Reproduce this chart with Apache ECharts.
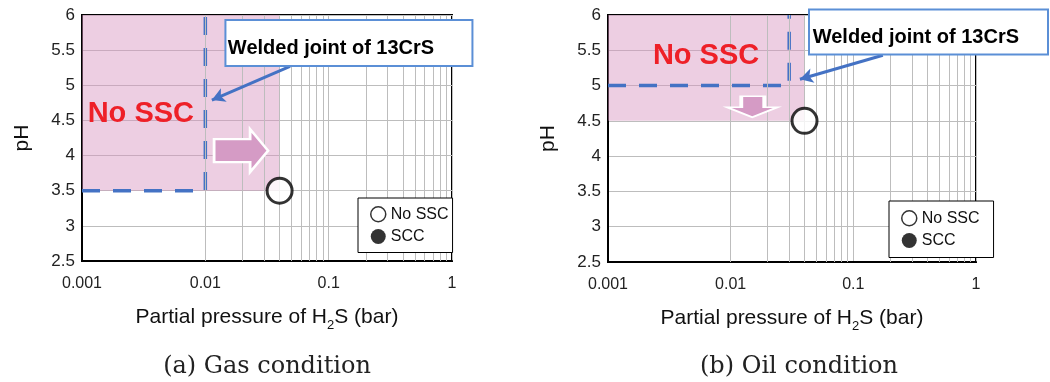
<!DOCTYPE html>
<html>
<head>
    <meta charset="utf-8">
    <title>SSC map</title>
    <script src="https://cdn.jsdelivr.net/npm/echarts@6/dist/echarts.min.js"></script>
</head>
<body style="margin:0;background:#fff">
    <div id="main" style="width:1050px;height:382px;"></div>
    <script type="text/javascript">
    // axis ticks
    var xTickLabels = ['0.001', '0.01', '0.1', '1'];
    var minorX = [0.002, 0.003, 0.004, 0.005, 0.006, 0.007, 0.008, 0.009,
                  0.02, 0.03, 0.04, 0.05, 0.06, 0.07, 0.08, 0.09,
                  0.2, 0.3, 0.4, 0.5, 0.6, 0.7, 0.8, 0.9];
    var yTickLabels = ['2.5', '3', '3.5', '4', '4.5', '5', '5.5', '6'];

    // (a) gas condition
    var gasNoSsc = [[0.04, 3.5]];
    var gasScc = [];
    var gasLimit = [[0.001, 3.5], [0.01, 3.5], [0.01, 6]];
    var gasZone = [[0.001, 3.5], [0.04, 6]];

    // (b) oil condition
    var oilNoSsc = [[0.04, 4.5]];
    var oilScc = [];
    var oilLimit = [[0.001, 5], [0.03, 5], [0.03, 6]];
    var oilZone = [[0.001, 4.5], [0.04, 6]];

    var FONT = 'Liberation Sans';
    var BLUE = '#4472c4';
    var PINK = '#d59bc5';
    var rightArrow = 'path://M0,10 L36,10 L36,0 L54,21.5 L36,43 L36,33 L0,33 Z';
    var downArrow = 'path://M14,0 L37,0 L37,11 L50,11 L25,21 L0,11 L14,11 Z';

    function xAxisOf(i) {
        return {
            gridIndex: i, type: 'log', logBase: 10, min: 0.001, max: 1,
            axisLine: { lineStyle: { color: '#000', width: 2 } },
            axisTick: { show: false },
            axisLabel: {
                color: '#222', fontSize: 16, fontFamily: FONT, margin: 15,
                formatter: function (v, idx) { return xTickLabels[idx]; }
            },
            splitLine: { show: true, lineStyle: { color: '#bdbdbd', width: 1 } },
            name: 'Partial pressure of H{sub|2}S (bar)',
            nameLocation: 'middle', nameGap: 46,
            nameTextStyle: {
                color: '#111', fontSize: 21, fontFamily: FONT,
                rich: { sub: { fontSize: 13, fontFamily: FONT, color: '#111', verticalAlign: 'bottom', padding: [0, 0, -4, 0] } }
            }
        };
    }
    function yAxisOf(i) {
        return {
            gridIndex: i, type: 'value', min: 2.5, max: 6, interval: 0.5,
            axisLine: { show: true, lineStyle: { color: '#000', width: 2 } },
            axisTick: { show: false },
            axisLabel: {
                color: '#222', fontSize: 17, fontFamily: FONT, margin: 7,
                formatter: function (v, idx) { return yTickLabels[idx]; }
            },
            splitLine: { show: true, lineStyle: { color: '#bdbdbd', width: 1 } },
            name: 'pH', nameLocation: 'middle', nameRotate: 90, nameGap: 49,
            nameTextStyle: { color: '#111', fontSize: 21, fontFamily: FONT }
        };
    }

    function panelSeries(i, noSsc, scc, limit, zone, ann) {
        return [
            {   // minor grid lines + pink safe zone
                type: 'line', xAxisIndex: i, yAxisIndex: i, data: [], z: 1, silent: true,
                markLine: {
                    silent: true, symbol: ['none', 'none'], label: { show: false },
                    lineStyle: { color: '#bdbdbd', width: 1, type: 'solid' },
                    data: minorX.map(function (v) { return { xAxis: v }; })
                },
                markArea: {
                    silent: true,
                    itemStyle: { color: 'rgba(214,146,190,0.45)' },
                    data: [[{ coord: zone[0] }, { coord: zone[1] }]]
                }
            },
            {   // dashed limit line + annotations
                type: 'line', xAxisIndex: i, yAxisIndex: i, data: limit, z: 4, silent: true,
                symbol: 'none',
                lineStyle: { color: BLUE, width: 3.5, type: [18, 13], cap: 'butt' },
                markLine: {
                    silent: true, symbol: ['none', 'arrow'], symbolSize: [11, 13],
                    label: { show: false },
                    lineStyle: { color: BLUE, width: 3, type: 'solid' },
                    data: [[{ coord: ann.arrowFrom }, { coord: ann.arrowTo }]]
                },
                markPoint: {
                    silent: true,
                    data: [
                        {   // callout frame
                            coord: ann.box, symbol: 'rect', symbolSize: 1,
                            itemStyle: { color: 'rgba(0,0,0,0)' },
                            label: {
                                show: true, position: 'inside', formatter: ' ',
                                width: ann.boxSize[0], height: ann.boxSize[1], padding: 0,
                                backgroundColor: '#fff', borderColor: '#5b8fd6', borderWidth: 2
                            }
                        },
                        {   // callout text
                            coord: ann.boxText, symbol: 'rect', symbolSize: 1,
                            itemStyle: { color: 'rgba(0,0,0,0)' },
                            label: {
                                show: true, position: 'inside',
                                formatter: 'Welded joint of 13CrS',
                                color: '#000', fontSize: 20, fontWeight: 'bold', fontFamily: FONT
                            }
                        },
                        {
                            coord: ann.noSsc, symbol: 'rect', symbolSize: 1,
                            itemStyle: { color: 'rgba(0,0,0,0)' },
                            label: {
                                show: true, position: 'inside', formatter: 'No SSC',
                                color: '#ee2028', fontSize: 29, fontWeight: 'bold', fontFamily: FONT
                            }
                        },
                        {
                            coord: ann.pinkArrow, symbol: ann.pinkPath, symbolSize: ann.pinkSize,
                            itemStyle: { color: PINK, borderColor: '#fff', borderWidth: 2.5 },
                            label: { show: false }
                        }
                    ]
                }
            },
            {
                name: 'No SSC', type: 'scatter', xAxisIndex: i, yAxisIndex: i, data: noSsc, z: 5,
                symbol: 'circle', symbolSize: 25, silent: true,
                itemStyle: { color: '#fff', borderColor: '#000', borderWidth: 3 }
            },
            {
                name: 'SCC', type: 'scatter', xAxisIndex: i, yAxisIndex: i, data: scc, z: 5,
                symbol: 'circle', symbolSize: 25, silent: true,
                itemStyle: { color: '#000' }
            }
        ];
    }

    function legendOf(left, top, padding) {
        return {
            left: left, top: top, orient: 'vertical', selectedMode: false,
            backgroundColor: '#fff', borderColor: '#000', borderWidth: 1,
            padding: padding, itemGap: 6, itemWidth: 15, itemHeight: 15,
            textStyle: { color: '#111', fontSize: 16, fontFamily: FONT },
            data: [
                { name: 'No SSC', icon: 'circle', itemStyle: { color: '#fff', borderColor: '#000', borderWidth: 1.5 } },
                { name: 'SCC', icon: 'circle', itemStyle: { color: '#000', borderWidth: 0 } }
            ],
            z: 10
        };
    }

    var myChart = echarts.init(document.getElementById('main'), null, { renderer: 'canvas' });

    var option = {
        animation: false,
        backgroundColor: '#fff',
        grid: [
            { left: 82, top: 15, width: 370, height: 246, show: true, borderColor: '#000', borderWidth: 2, backgroundColor: 'transparent' },
            { left: 608, top: 15, width: 368, height: 247, show: true, borderColor: '#000', borderWidth: 2, backgroundColor: 'transparent' }
        ],
        xAxis: [xAxisOf(0), xAxisOf(1)],
        yAxis: [yAxisOf(0), yAxisOf(1)],
        legend: [legendOf(358, 198, [8, 4, 8, 12]), legendOf(889, 201, [9, 14, 9, 12])],
        graphic: [
            { type: 'text', x: 267, y: 367, style: { text: '(a) Gas condition', align: 'center', verticalAlign: 'middle', fontSize: 24, fontFamily: 'DejaVu Serif', fill: '#222' } },
            { type: 'text', x: 799, y: 367, style: { text: '(b) Oil condition', align: 'center', verticalAlign: 'middle', fontSize: 24, fontFamily: 'DejaVu Serif', fill: '#222' } }
        ],
        series: [].concat(
            panelSeries(0, gasNoSsc, gasScc, gasLimit, gasZone, {
                box: [0.146, 5.6], boxSize: [245, 44], boxText: [0.1045, 5.52],
                arrowFrom: [0.0486, 5.27], arrowTo: [0.0113, 4.79],
                noSsc: [0.003, 4.59],
                pinkArrow: [0.0195, 4.07], pinkPath: rightArrow, pinkSize: [54, 43]
            }),
            panelSeries(1, oilNoSsc, oilScc, oilLimit, oilZone, {
                box: [0.41, 5.76], boxSize: [237, 43], boxText: [0.3236, 5.68],
                arrowFrom: [0.174, 5.43], arrowTo: [0.0367, 5.09],
                noSsc: [0.0063, 5.42],
                pinkArrow: [0.015, 4.70], pinkPath: downArrow, pinkSize: [50, 21]
            })
        )
    };

    myChart.setOption(option);
    </script>
</body>
</html>
